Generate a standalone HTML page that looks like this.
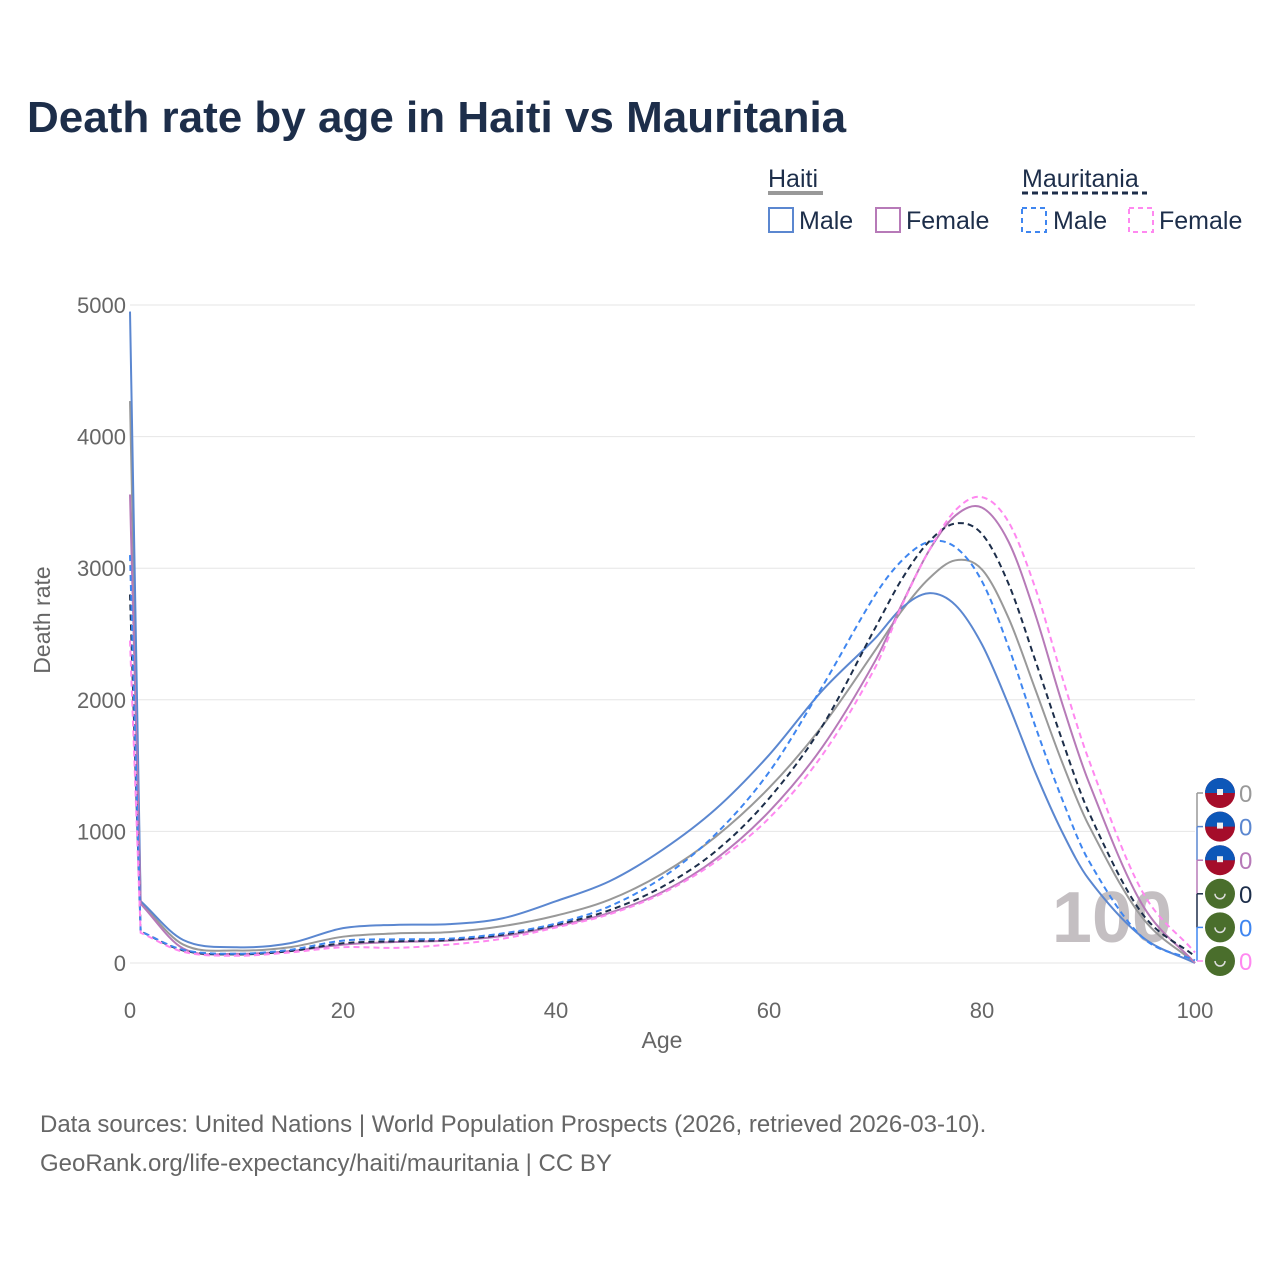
<!DOCTYPE html>
<html><head><meta charset="utf-8">
<style>
html,body{margin:0;padding:0;background:#fff;}
body{width:1280px;height:1280px;position:relative;font-family:"Liberation Sans",sans-serif;color:#1d2e4a;overflow:hidden;}
</style></head>
<body>
<svg id="chart" width="1280" height="1280" xmlns="http://www.w3.org/2000/svg" font-family="Liberation Sans, sans-serif">
<text x="27" y="132" font-size="44" font-weight="bold" fill="#1d2e4a">Death rate by age in Haiti vs Mauritania</text>
<g font-size="25" fill="#1d2e4a">
<text x="768" y="187">Haiti</text>
<line x1="768" y1="193" x2="823" y2="193" stroke="#999" stroke-width="4"/>
<text x="1022" y="187">Mauritania</text>
<line x1="1022" y1="193" x2="1147" y2="193" stroke="#1d2e4a" stroke-width="3" stroke-dasharray="6,4"/>
<g><rect x="769" y="208" width="24" height="24" fill="none" stroke="#5b87d0" stroke-width="2"/><text x="799" y="229">Male</text></g>
<g><rect x="876" y="208" width="24" height="24" fill="none" stroke="#b77ab8" stroke-width="2"/><text x="906" y="229">Female</text></g>
<g><rect x="1022" y="208" width="24" height="24" fill="none" stroke="#3f86f0" stroke-width="2" stroke-dasharray="5,4"/><text x="1053" y="229">Male</text></g>
<g><rect x="1129" y="208" width="24" height="24" fill="none" stroke="#ff88f0" stroke-width="2" stroke-dasharray="5,4"/><text x="1159" y="229">Female</text></g>
</g>
<g id="grid"></g>
<g id="yticks" font-size="22" fill="#666" text-anchor="end"></g>
<g id="xticks" font-size="22" fill="#666" text-anchor="middle"></g>
<text transform="translate(50,620) rotate(-90)" text-anchor="middle" font-size="23" fill="#666">Death rate</text>
<text x="662" y="1048" text-anchor="middle" font-size="23" fill="#666">Age</text>
<text x="1112" y="942" text-anchor="middle" font-size="72" font-weight="bold" fill="#c4bfc2">100</text>
<g id="lines"></g>
<g id="endlabels"></g>
<g font-size="24" fill="#666">
<text x="40" y="1132">Data sources: United Nations | World Population Prospects (2026, retrieved 2026-03-10).</text>
<text x="40" y="1171">GeoRank.org/life-expectancy/haiti/mauritania | CC BY</text>
</g>
</svg>
<script>
const ages = [0,1,5,10,15,20,25,30,35,40,45,50,55,60,65,70,72.5,75,77.5,80,82.5,85,87.5,90,95,100];
const haitiTotal = [4270,460,140,95,120,200,225,235,280,360,480,680,960,1330,1800,2380,2680,2920,3060,2990,2620,2080,1530,1050,350,0];
const haitiMale = [4950,470,175,120,150,265,290,295,340,470,620,860,1170,1580,2070,2470,2700,2810,2720,2420,1960,1450,1000,640,200,0];
const haitiFemale = [3560,450,110,70,90,140,160,170,205,280,380,540,790,1150,1640,2300,2730,3130,3400,3460,3200,2650,1980,1380,450,0];
const maurTotal = [2800,240,95,65,90,150,165,175,215,290,400,580,850,1250,1800,2550,2920,3200,3340,3260,2880,2300,1700,1150,380,50];
const maurMale = [3100,240,100,70,100,170,180,185,225,300,430,650,980,1450,2100,2800,3060,3200,3160,2900,2400,1800,1250,780,200,20];
const maurFemale = [2450,230,85,55,80,120,115,140,185,270,370,530,770,1100,1580,2250,2720,3130,3440,3540,3350,2850,2180,1550,550,80];
const yTicks = [0,1000,2000,3000,4000,5000];
const xTicks = [0,20,40,60,80,100];
const endValues = ["0","0","0","0","0","0"];

const NS="http://www.w3.org/2000/svg";
const X0=130,X1=1195,Y0=963,Y1=305;
const xs=a=>X0+(a/100)*(X1-X0);
const ys=v=>Y0-(v/5000)*(Y0-Y1);
function mk(tag,attrs,parent){const e=document.createElementNS(NS,tag);for(const k in attrs)e.setAttribute(k,attrs[k]);parent.appendChild(e);return e;}
const grid=document.getElementById('grid'),yt=document.getElementById('yticks'),xt=document.getElementById('xticks');
yTicks.forEach(t=>{
  const l=mk('line',{x1:X0,x2:X1,y1:ys(t),y2:ys(t),stroke:'#e6e6e6','stroke-width':1},grid);
  
  
  const tx=mk('text',{x:126,y:ys(t)+8},yt);tx.textContent=t;
  
  
});
xTicks.forEach(t=>{
  const tx=mk('text',{x:xs(t),y:1018},xt);tx.textContent=t;
  
  
});
function pathFor(vals){
  const p=ages.map((a,i)=>[xs(a),ys(vals[i])]);
  let d=`M${p[0][0]},${p[0][1]} L${p[1][0]},${p[1][1]}`;
  for(let i=1;i<p.length-1;i++){
    const p0=p[Math.max(i-1,1)],p1=p[i],p2=p[i+1],p3=p[Math.min(i+2,p.length-1)];
    const h=p2[0]-p1[0];
    const m1=(p2[1]-p0[1])/(p2[0]-p0[0]||1), m2=(p3[1]-p1[1])/(p3[0]-p1[0]||1);
    const c1=[p1[0]+h/3,p1[1]+m1*h/3];
    const c2=[p2[0]-h/3,p2[1]-m2*h/3];
    d+=` C${c1[0]},${c1[1]} ${c2[0]},${c2[1]} ${p2[0]},${p2[1]}`;
  }
  return d;
}
const series=[
 {n:'line-haiti-total',v:haitiTotal,c:'#999999',dash:null,flag:'ht'},
 {n:'line-haiti-male',v:haitiMale,c:'#5b87d0',dash:null,flag:'ht'},
 {n:'line-haiti-female',v:haitiFemale,c:'#b77ab8',dash:null,flag:'ht'},
 {n:'line-mauritania-total',v:maurTotal,c:'#1d2e4a',dash:'6,4',flag:'mr'},
 {n:'line-mauritania-male',v:maurMale,c:'#3f86f0',dash:'6,4',flag:'mr'},
 {n:'line-mauritania-female',v:maurFemale,c:'#ff88f0',dash:'6,4',flag:'mr'}
];
const lines=document.getElementById('lines'),el=document.getElementById('endlabels');
series.forEach((s,i)=>{
  const a={d:pathFor(s.v),fill:'none',stroke:s.c,'stroke-width':2};
  if(s.dash)a['stroke-dasharray']=s.dash;
  const p=mk('path',a,lines);
  
  
  const cy=793+i*33.6;
  if(i<series.length-1) mk('line',{x1:1197,x2:1197,y1:cy,y2:cy+33.6,stroke:s.c,'stroke-width':1.5},el);
  mk('line',{x1:1197,x2:1203,y1:cy,y2:cy,stroke:s.c,'stroke-width':1.5},el);
  const g=mk('g',{},el);
  
  
  if(s.flag==='ht'){
    mk('circle',{cx:1220,cy:cy,r:15,fill:'#a50d2a'},g);
    mk('path',{d:`M1205,${cy} A15,15 0 0 1 1235,${cy} Z`,fill:'#0d57b8'},g);
    mk('rect',{x:1217,y:cy-4,width:6,height:6,fill:'#eee'},g);
  }else{
    mk('circle',{cx:1220,cy:cy,r:15,fill:'#4a6e2c'},g);
    mk('path',{d:`M1215,${cy} A5,5 0 0 0 1225,${cy}`,fill:'none',stroke:'#ddd','stroke-width':1.5},g);
  }
  const t=mk('text',{x:1239,y:cy+9,'font-size':24,fill:s.c},el);t.textContent=endValues[i];
  
  
});
</script>
</body></html>
